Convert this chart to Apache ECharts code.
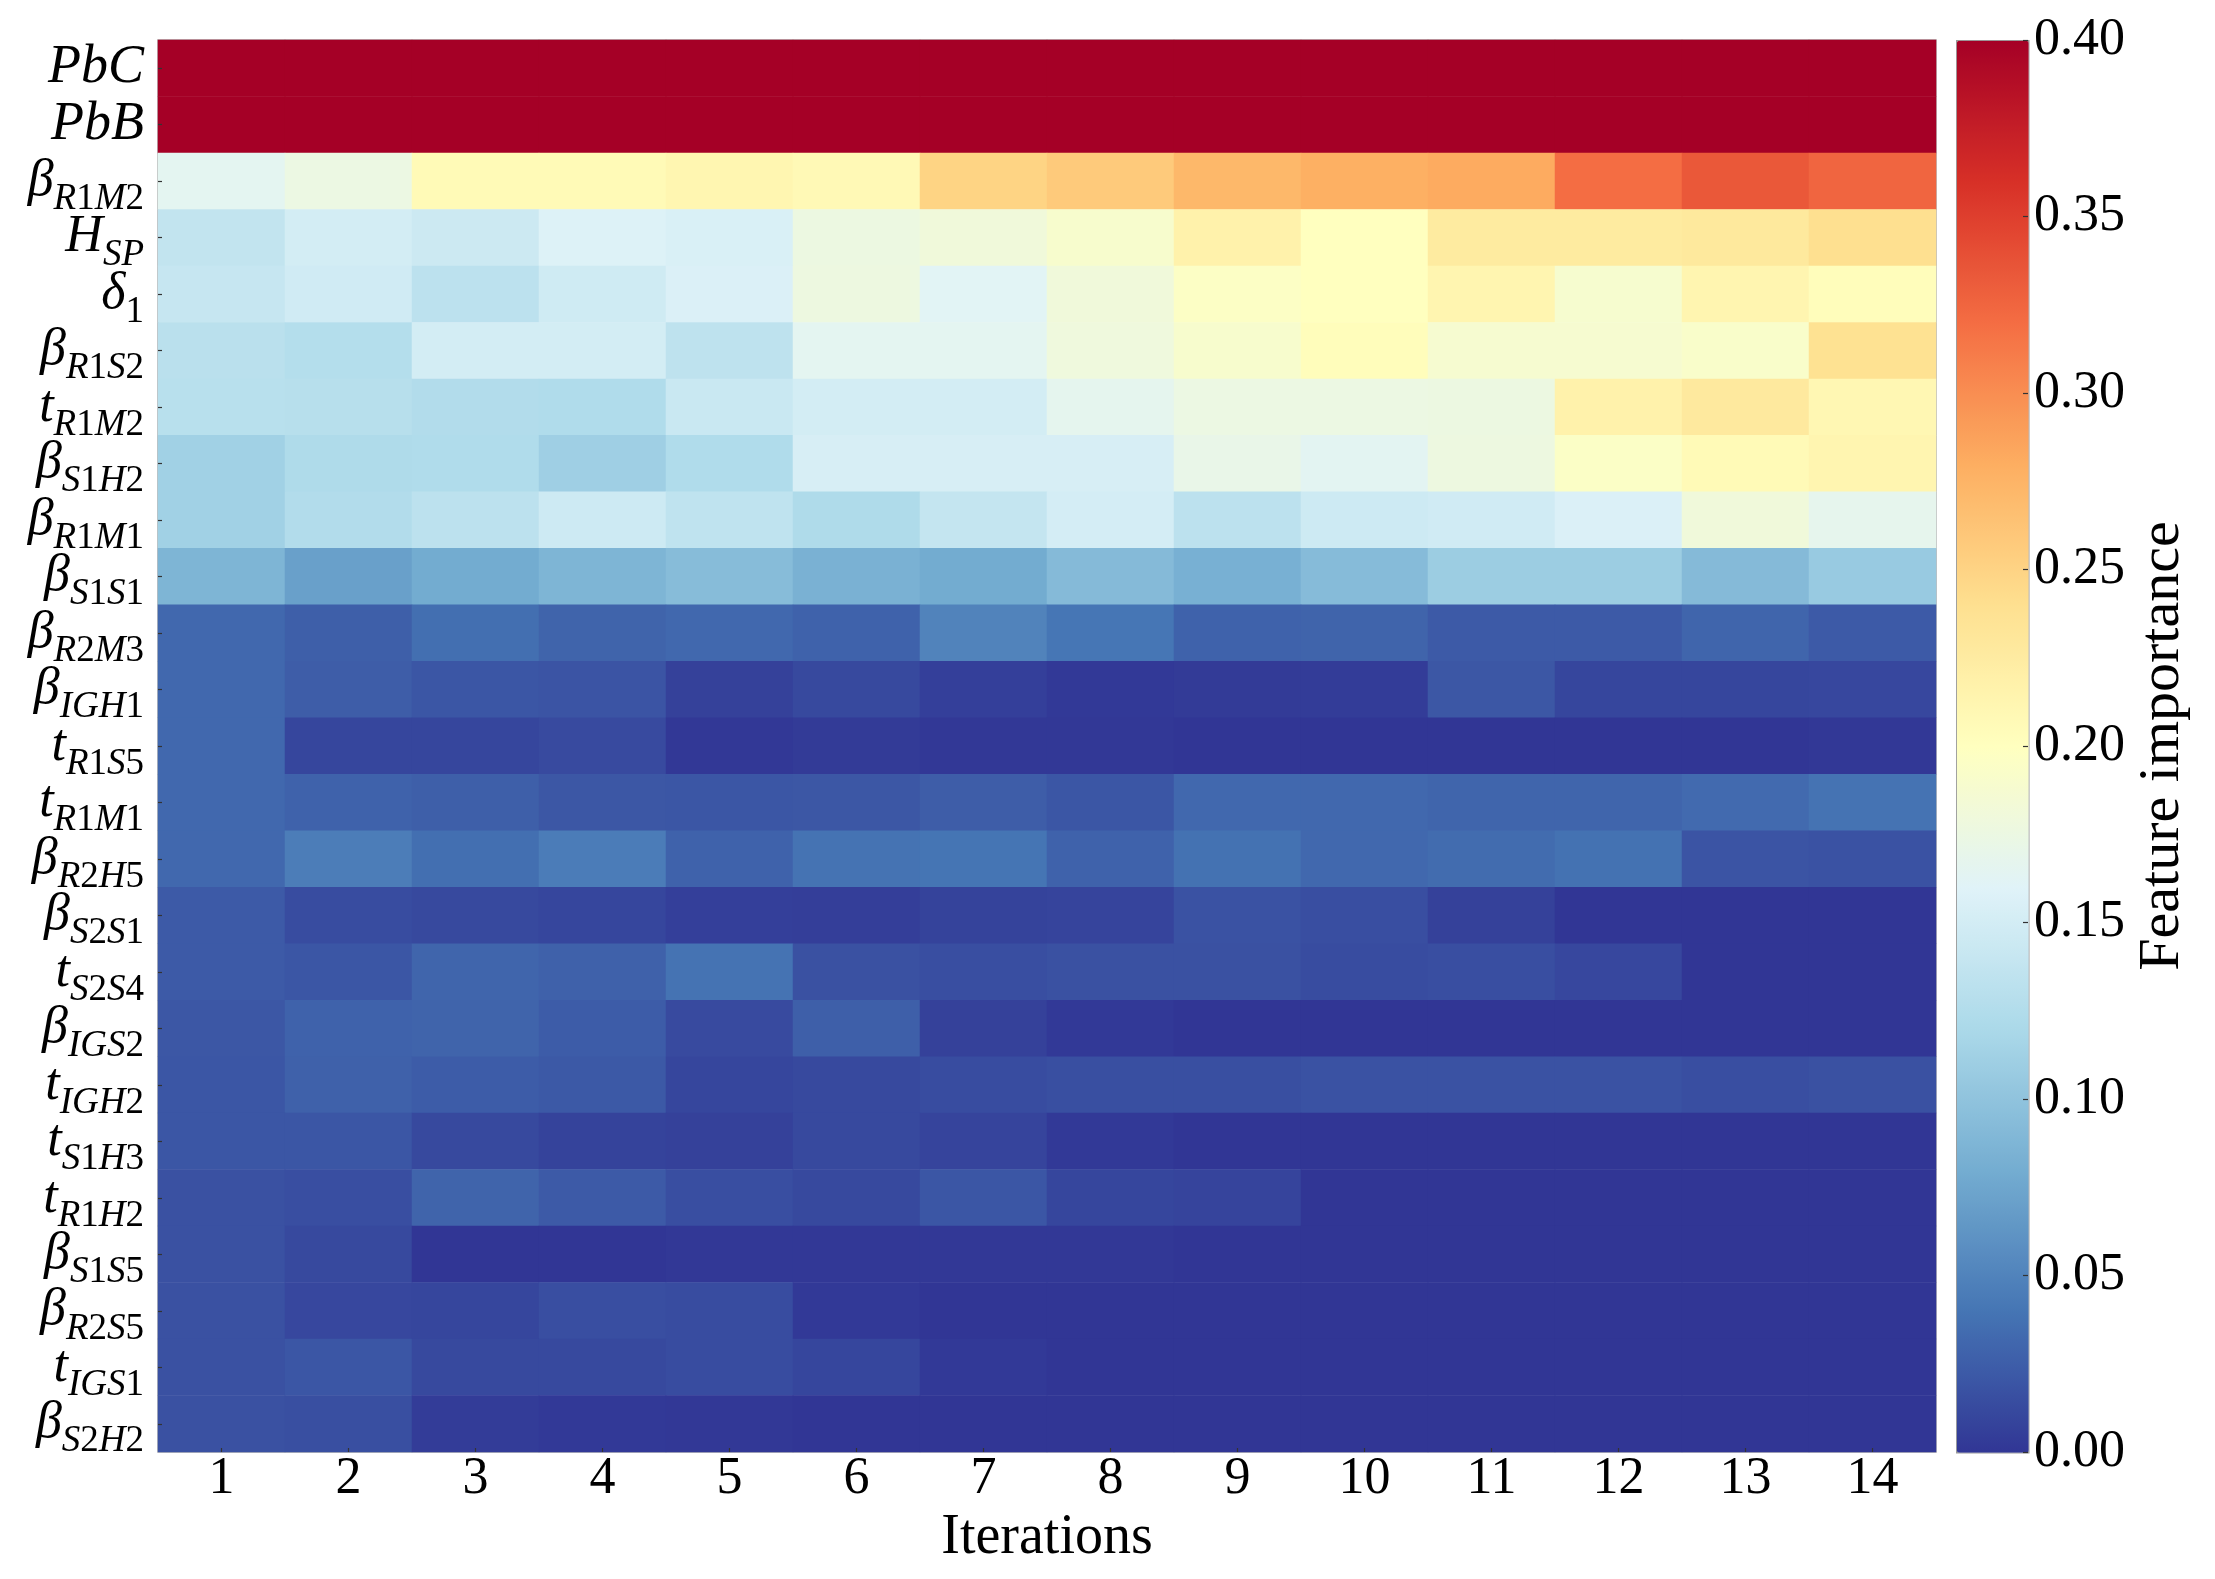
<!DOCTYPE html>
<html>
<head>
<meta charset="utf-8">
<script src="https://cdn.jsdelivr.net/npm/echarts@6/dist/echarts.min.js"></script>
<style>
html,body{margin:0;padding:0;background:#fff;}
#chart{width:2215px;height:1579px;}
</style>
</head>
<body>
<div id="chart"></div>
<script>
// Iterations (x categories)
const iterations = ['1','2','3','4','5','6','7','8','9','10','11','12','13','14'];
// Feature labels: main symbol + subscript
const rowMain = ['PbC','PbB','β','H','δ','β','t','β','β','β','β','β','t','t','β','β','t','β','t','t','t','β','β','t','β'];
const rowSub  = ['','','R1M2','SP','1','R1S2','R1M2','S1H2','R1M1','S1S1','R2M3','IGH1','R1S5','R1M1','R2H5','S2S1','S2S4','IGS2','IGH2','S1H3','R1H2','S1S5','R2S5','IGS1','S2H2'];
// Colorbar ticks
const colorTicks = [0, 0.05, 0.10, 0.15, 0.20, 0.25, 0.30, 0.35, 0.40];

// Feature importance per iteration (one array per feature, top to bottom)
const PbC   = [0.40,0.40,0.40,0.40,0.40,0.40,0.40,0.40,0.40,0.40,0.40,0.40,0.40,0.40];
const PbB   = [0.40,0.40,0.40,0.40,0.40,0.40,0.40,0.40,0.40,0.40,0.40,0.40,0.40,0.40];
const bR1M2 = [0.165,0.175,0.207,0.207,0.212,0.208,0.250,0.258,0.272,0.278,0.282,0.320,0.334,0.325];
const HSP   = [0.137,0.150,0.145,0.158,0.155,0.176,0.181,0.190,0.217,0.200,0.226,0.226,0.229,0.240];
const d1    = [0.140,0.148,0.133,0.147,0.156,0.177,0.162,0.181,0.196,0.200,0.213,0.189,0.213,0.203];
const bR1S2 = [0.131,0.127,0.150,0.150,0.134,0.165,0.165,0.179,0.190,0.203,0.188,0.188,0.192,0.238];
const tR1M2 = [0.130,0.129,0.125,0.124,0.143,0.150,0.150,0.167,0.175,0.175,0.176,0.217,0.228,0.210];
const bS1H2 = [0.113,0.123,0.124,0.111,0.124,0.153,0.153,0.153,0.171,0.164,0.177,0.195,0.207,0.213];
const bR1M1 = [0.113,0.125,0.133,0.146,0.135,0.123,0.139,0.151,0.133,0.146,0.148,0.156,0.181,0.168];
const bS1S1 = [0.087,0.071,0.079,0.087,0.094,0.084,0.079,0.092,0.083,0.093,0.109,0.109,0.092,0.106];
const bR2M3 = [0.032,0.026,0.036,0.029,0.032,0.028,0.050,0.041,0.028,0.029,0.023,0.023,0.030,0.023];
const bIGH1 = [0.032,0.025,0.020,0.019,0.007,0.012,0.006,0.002,0.003,0.004,0.021,0.010,0.010,0.011];
const tR1S5 = [0.032,0.010,0.010,0.013,0.001,0.003,0.001,0.001,0.000,0.000,0.000,0.000,0.000,0.001];
const tR1M1 = [0.032,0.028,0.026,0.021,0.020,0.021,0.025,0.020,0.032,0.032,0.030,0.030,0.033,0.039];
const bR2H5 = [0.032,0.046,0.036,0.045,0.028,0.039,0.040,0.028,0.038,0.032,0.034,0.038,0.019,0.018];
const bS2S1 = [0.023,0.014,0.012,0.010,0.006,0.005,0.008,0.009,0.018,0.015,0.007,0.000,0.000,0.000];
const tS2S4 = [0.023,0.020,0.030,0.027,0.039,0.017,0.015,0.017,0.017,0.014,0.015,0.011,0.000,0.000];
const bIGS2 = [0.021,0.028,0.029,0.024,0.013,0.026,0.007,0.002,0.000,0.000,0.000,0.000,0.000,0.000];
const tIGH2 = [0.020,0.027,0.024,0.022,0.010,0.012,0.014,0.016,0.016,0.018,0.018,0.018,0.015,0.017];
const tS1H3 = [0.020,0.020,0.012,0.008,0.007,0.012,0.009,0.002,0.000,0.000,0.000,0.000,0.000,0.000];
const tR1H2 = [0.017,0.015,0.029,0.023,0.015,0.012,0.020,0.010,0.009,0.000,0.000,0.000,0.000,0.000];
const bS1S5 = [0.017,0.012,0.000,0.000,0.001,0.001,0.001,0.001,0.000,0.000,0.000,0.000,0.000,0.000];
const bR2S5 = [0.017,0.011,0.010,0.015,0.014,0.002,0.000,0.000,0.000,0.000,0.000,0.000,0.000,0.000];
const tIGS1 = [0.017,0.020,0.012,0.012,0.014,0.010,0.002,0.000,0.000,0.000,0.000,0.000,0.000,0.000];
const bS2H2 = [0.017,0.016,0.004,0.002,0.001,0.000,0.000,0.000,0.000,0.000,0.000,0.000,0.000,0.000];

const rows = [PbC,PbB,bR1M2,HSP,d1,bR1S2,tR1M2,bS1H2,bR1M1,bS1S1,bR2M3,bIGH1,tR1S5,tR1M1,bR2H5,bS2S1,tS2S4,bIGS2,tIGH2,tS1H3,tR1H2,bS1S5,bR2S5,tIGS1,bS2H2];

const categories = rowMain.map((m, i) => m + rowSub[i]);
const heatData = [];
rows.forEach((r, yi) => r.forEach((v, xi) => heatData.push([xi, yi, v])));

const FONT = 'Liberation Serif';
const SUBPAD = 36;

function labelFmt(value, index) {
  const m = rowMain[index], s = rowSub[index];
  if (!s) return '{p|' + m + '}';
  let out = '{m|' + m + '}';
  for (const c of s) {
    out += (/[0-9]/.test(c) ? '{r|' : '{i|') + c + '}';
  }
  return out;
}

const chart = echarts.init(document.getElementById('chart'), null, {renderer: 'canvas'});
chart.setOption({
  backgroundColor: '#ffffff',
  animation: false,
  grid: [
    {left: 158, top: 40, width: 1778, height: 1412, show: true, borderColor: '#aaaaaa', borderWidth: 1.5, backgroundColor: 'transparent', outerBoundsMode: 'none', containLabel: false},
    {left: 1956, top: 40, width: 72, height: 1412, show: false, outerBoundsMode: 'none', containLabel: false}
  ],
  xAxis: [
    {
      type: 'category', gridIndex: 0, data: iterations, z: 5,
      axisLine: {show: false, onZero: false},
      axisTick: {show: true, inside: true, alignWithLabel: true, length: 4, lineStyle: {color: '#333', width: 1.2}},
      axisLabel: {fontFamily: FONT, fontSize: 52, color: '#000', margin: 1, interval: 0},
      splitLine: {show: false},
      name: 'Iterations', nameLocation: 'middle', nameGap: 46,
      nameTextStyle: {fontFamily: FONT, fontSize: 56, color: '#000'}
    },
    {type: 'category', gridIndex: 1, show: false, data: ['c'], axisLine: {onZero: false}}
  ],
  yAxis: [
    {
      type: 'category', gridIndex: 0, data: categories, inverse: true, z: 5,
      axisLine: {show: false, onZero: false},
      axisTick: {show: true, inside: true, alignWithLabel: true, length: 4, lineStyle: {color: '#333', width: 1.2}},
      axisLabel: {
        margin: 14, color: '#000', formatter: labelFmt, interval: 0, hideOverlap: false,
        rich: {
          p: {fontFamily: FONT, fontStyle: 'italic', fontSize: 54, color: '#000'},
          m: {fontFamily: FONT, fontStyle: 'italic', fontSize: 52, color: '#000'},
          i: {fontFamily: FONT, fontStyle: 'italic', fontSize: 37, color: '#000', padding: [SUBPAD, 0, 0, 0]},
          r: {fontFamily: FONT, fontSize: 37, color: '#000', padding: [SUBPAD, 0, 0, 0]}
        }
      },
      splitLine: {show: false}
    },
    {
      type: 'value', gridIndex: 1, min: 0, max: 0.4, interval: 0.05, position: 'right', z: 10,
      axisLine: {show: false, onZero: false},
      axisTick: {show: true, inside: true, length: 5, lineStyle: {color: '#333', width: 1.2}},
      axisLabel: {fontFamily: FONT, fontSize: 52, color: '#000', margin: 6,
        formatter: v => {
          const t = colorTicks.find(c => Math.abs(c - v) < 1e-9);
          return (t === undefined ? v : t).toFixed(2);
        }},
      splitLine: {show: false},
      name: 'Feature importance', nameLocation: 'middle', nameGap: 106, nameRotate: 90,
      nameTextStyle: {fontFamily: FONT, fontSize: 58, color: '#000'}
    }
  ],
  visualMap: {
    type: 'continuous', seriesIndex: 0, dimension: 2,
    min: 0, max: 0.4, calculable: false, hoverLink: false,
    orient: 'vertical', left: 1956, top: 40, padding: 0,
    itemWidth: 72, itemHeight: 1412, text: null,
    borderColor: '#999999', borderWidth: 1.5,
    inRange: {color: ['#313695','#4575b4','#74add1','#abd9e9','#e0f3f8','#ffffbf','#fee090','#fdae61','#f46d43','#d73027','#a50026']}
  },
  series: [{
    type: 'heatmap', xAxisIndex: 0, yAxisIndex: 0, data: heatData,
    itemStyle: {borderWidth: 0},
    emphasis: {disabled: true}, label: {show: false}
  }]
});
</script>
</body>
</html>
